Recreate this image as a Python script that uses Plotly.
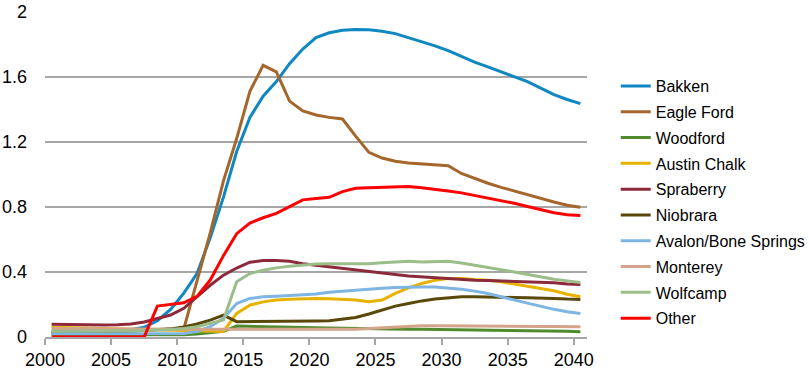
import plotly.graph_objects as go

years = list(range(2000, 2041))

bakken = [0.025,0.027,0.028,0.03,0.032,0.035,0.045,0.06,0.10,0.17,
          0.27,0.39,0.61,0.86,1.14,1.35,1.48,1.57,1.68,1.77,
          1.84,1.87,1.885,1.89,1.888,1.88,1.865,1.84,1.815,1.79,
          1.76,1.725,1.69,1.66,1.63,1.60,1.57,1.53,1.49,1.46,1.435]
eagle_ford = [None]*10 + [0.05,0.34,0.64,0.96,1.22,1.51,1.67,1.63,1.45,1.39,
          1.365,1.35,1.34,1.235,1.135,1.10,1.08,1.07,1.065,1.06,
          1.053,1.005,0.975,0.945,0.92,0.897,0.875,0.852,0.83,0.81,0.798]
woodford = [0.015,0.015,0.014,0.014,0.013,0.013,0.012,0.012,0.012,0.012,
          0.014,0.018,0.025,0.035,0.067,0.066,0.065,0.063,0.061,0.059,
          0.057,0.055,0.053,0.051,0.05,0.049,0.048,0.047,0.047,0.046,
          0.045,0.043,0.043,0.043,0.042,0.042,0.041,0.041,0.039,0.036,0.033]
austin_chalk = [0.06,0.058,0.055,0.052,0.05,0.048,0.046,0.045,0.044,0.042,
          0.04,0.038,0.036,0.034,0.145,0.196,0.216,0.227,0.232,0.235,
          0.236,0.235,0.233,0.227,0.216,0.227,0.268,0.302,0.329,0.349,
          0.359,0.359,0.353,0.349,0.339,0.325,0.312,0.298,0.284,0.263,0.247]
spraberry = [0.078,0.076,0.074,0.073,0.073,0.075,0.08,0.092,0.115,0.135,
          0.176,0.247,0.318,0.38,0.424,0.46,0.47,0.47,0.465,0.45,
          0.44,0.43,0.42,0.41,0.40,0.39,0.384,0.375,0.37,0.363,
          0.357,0.353,0.349,0.347,0.345,0.341,0.337,0.335,0.333,0.326,0.323]
niobrara = [0.03,0.03,0.03,0.03,0.03,0.03,0.035,0.04,0.045,0.05,
          0.062,0.08,0.104,0.135,0.094,0.094,0.094,0.095,0.096,0.097,
          0.098,0.10,0.108,0.12,0.141,0.165,0.19,0.206,0.222,0.233,
          0.241,0.247,0.247,0.247,0.247,0.243,0.241,0.241,0.237,0.233,0.231]
avalon = [0.02,0.02,0.02,0.02,0.02,0.02,0.02,0.02,0.02,0.02,
          0.022,0.033,0.063,0.115,0.206,0.237,0.247,0.251,0.255,0.26,
          0.265,0.275,0.282,0.287,0.293,0.30,0.304,0.308,0.308,0.308,
          0.302,0.294,0.282,0.268,0.247,0.227,0.206,0.186,0.17,0.155,0.145]
monterey = [0.052,0.052,0.051,0.051,0.05,0.05,0.05,0.049,0.049,0.048,
          0.048,0.047,0.047,0.046,0.046,0.046,0.045,0.045,0.044,0.044,
          0.043,0.043,0.043,0.047,0.053,0.058,0.063,0.066,0.069,0.069,
          0.069,0.069,0.069,0.068,0.067,0.067,0.066,0.065,0.064,0.063,0.063]
wolfcamp = [0.035,0.035,0.035,0.035,0.036,0.037,0.038,0.04,0.042,0.045,
          0.053,0.063,0.084,0.105,0.34,0.39,0.41,0.425,0.435,0.443,
          0.449,0.451,0.451,0.451,0.451,0.457,0.463,0.465,0.461,0.465,
          0.465,0.455,0.44,0.427,0.414,0.40,0.384,0.37,0.355,0.345,0.335]
other = [0,0,0,0,0,0,0,0,0.19,0.20,
          0.21,0.25,0.35,0.50,0.635,0.70,0.733,0.76,0.80,0.843,
          0.851,0.859,0.894,0.914,0.917,0.92,0.925,0.925,0.918,0.91,
          0.898,0.886,0.871,0.855,0.839,0.822,0.802,0.782,0.764,0.751,0.747]

series = [
    ("Bakken", bakken, "#0F87C3"),
    ("Eagle Ford", eagle_ford, "#A5662B"),
    ("Woodford", woodford, "#4F8A2C"),
    ("Austin Chalk", austin_chalk, "#E8B300"),
    ("Spraberry", spraberry, "#8C2A3B"),
    ("Niobrara", niobrara, "#5A480B"),
    ("Avalon/Bone Springs", avalon, "#7FB5E2"),
    ("Monterey", monterey, "#D4A48A"),
    ("Wolfcamp", wolfcamp, "#9ABD89"),
    ("Other", other, "#FF0000"),
]

x_tick_vals = [2000, 2005, 2010, 2015, 2020, 2025, 2030, 2035, 2040]
y_tick_vals = [0, 0.4, 0.8, 1.2, 1.6, 2]
y_tick_text = ["0", "0.4", "0.8", "1.2", "1.6", "2"]

# category-style placement: each year's point sits mid-interval
xpos = [y + 0.5 for y in years]

fig = go.Figure()
for name, vals, color in series:
    fig.add_trace(go.Scatter(x=xpos, y=vals, name=name, mode="lines",
                             legendgroup=name,
                             line=dict(color=color, width=3),
                             connectgaps=False))

# figure is a little wider than the window so the legend's right padding
# does not push the plot margin; the extra strip is outside the viewport
fig.update_layout(
    width=840, height=371,
    margin=dict(l=45, r=253, t=11, b=34, pad=0),
    paper_bgcolor="white", plot_bgcolor="white",
    font=dict(family="Arial, Liberation Sans, sans-serif", color="black"),
    showlegend=True,
    legend=dict(x=1.053, y=0.822, xanchor="left", yanchor="top",
                font=dict(size=16, color="black"),
                traceorder="grouped", tracegroupgap=2, itemwidth=30),
)
fig.update_xaxes(range=[2000, 2041], tickvals=x_tick_vals,
                 ticktext=[str(v) for v in x_tick_vals],
                 showgrid=False, zeroline=False, automargin=False,
                 showline=True, linecolor="#A6A6A6", linewidth=1.5,
                 ticks="outside", ticklen=6, tickcolor="#A6A6A6", tickwidth=1.5,
                 tickfont=dict(size=18, color="black"))
fig.update_yaxes(range=[0, 2.004], tickvals=y_tick_vals, ticktext=y_tick_text,
                 showgrid=True, gridcolor="#A6A6A6", gridwidth=1.5,
                 zeroline=False, showline=False, ticks="", automargin=False,
                 ticklabelstandoff=17,
                 tickfont=dict(size=18, color="black"))

# remove the browser's default 8px page margin so the figure fills the window
fig.write_html("out.html",
               config={"displayModeBar": False},
               post_script="document.body.style.margin='0';document.body.style.overflow='hidden';")
